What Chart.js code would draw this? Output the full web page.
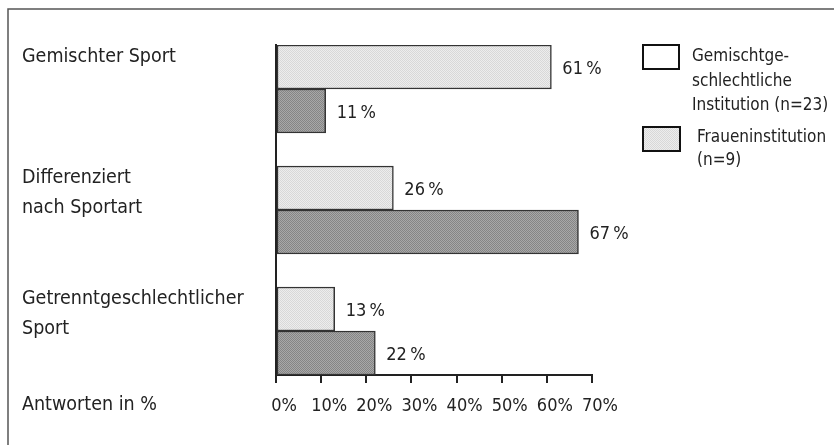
<!DOCTYPE html>
<html>
<head>
<meta charset="utf-8">
<script src="https://cdn.jsdelivr.net/npm/chart.js@4.4.1/dist/chart.umd.min.js"></script>
<style>
  html, body { margin: 0; padding: 0; background: #fff; }
  #wrap { width: 834px; height: 445px; position: relative; }
</style>
</head>
<body>
<div id="wrap"><canvas id="c" width="834" height="445"></canvas></div>
<script>
// ---- data ----
const categories = [["Gemischter Sport"], ["Differenziert", "nach Sportart"], ["Getrenntgeschlechtlicher", "Sport"]];
const gemischtValues = [61, 26, 13];   // Gemischtgeschlechtliche Institution (n=23)
const frauenValues = [11, 67, 22];     // Fraueninstitution (n=9)
const xTicks = [0, 10, 20, 30, 40, 50, 60, 70];
const seriesNames = [["Gemischtge-", "schlechtliche", "Institution (n=23)"], ["Fraueninstitution", "(n=9)"]];
const axisTitle = "Antworten in %";

const FONT = '"Liberation Sans Narrow", "Arial Narrow", "DejaVu Sans Condensed", sans-serif';
const TEXT = '#222';

function makePattern(a, b) {
  const p = document.createElement('canvas');
  p.width = 2; p.height = 2;
  const g = p.getContext('2d');
  g.fillStyle = a; g.fillRect(0, 0, 2, 2);
  g.fillStyle = b; g.fillRect(0, 0, 1, 1); g.fillRect(1, 1, 1, 1);
  return g.createPattern(p, 'repeat');
}
const lightFill = makePattern('#ededed', '#d8d8d8');
const darkFill = makePattern('#a8a8a8', '#858585');

const BAR = 44;
const half = 44 / 121;

const decor = {
  id: 'decor',
  beforeDraw(chart) {
    const c = chart.ctx;
    c.save();
    c.fillStyle = '#fff';
    c.fillRect(0, 0, chart.width, chart.height);
    c.strokeStyle = '#555';
    c.lineWidth = 1.5;
    c.beginPath();
    c.moveTo(8, 445); c.lineTo(8, 9); c.lineTo(834, 9);
    c.stroke();
    c.restore();
  },
  afterDraw(chart) {
    const c = chart.ctx;
    const y = chart.scales.y;
    c.save();
    c.fillStyle = TEXT;
    c.textAlign = 'left';
    c.textBaseline = 'middle';
    // category labels
    c.font = '19.5px ' + FONT;
    categories.forEach((lines, i) => {
      const top = y.getPixelForValue(i) - BAR;
      lines.forEach((ln, k) => c.fillText(ln, 22, top + 12 + k * 30));
    });
    // axis title
    c.fillText(axisTitle, 22, 405);
    // value labels
    c.font = '18px ' + FONT;
    chart.data.datasets.forEach((ds, di) => {
      const meta = chart.getDatasetMeta(di);
      meta.data.forEach((bar, i) => {
        c.fillText(ds.data[i].x + '\u2009%', bar.x + 11, bar.y + 2);
      });
    });
    // legend
    c.font = '17px ' + FONT;
    c.lineWidth = 2;
    c.strokeStyle = '#111';
    c.fillStyle = '#fff';
    c.fillRect(643, 45, 36, 24); c.strokeRect(643, 45, 36, 24);
    c.fillStyle = lightFill;
    c.fillRect(643, 127, 37, 24); c.strokeRect(643, 127, 37, 24);
    c.fillStyle = TEXT;
    seriesNames[0].forEach((ln, k) => c.fillText(ln, 692, 57 + k * 24.5));
    seriesNames[1].forEach((ln, k) => c.fillText(ln, 697, 138 + k * 23));
    c.restore();
  }
};

new Chart(document.getElementById('c'), {
  type: 'bar',
  data: {
    datasets: [
      {
        label: seriesNames[0].join(' '),
        data: gemischtValues.map((v, i) => ({ x: v, y: i })),
        backgroundColor: lightFill,
        borderColor: '#333',
        borderWidth: 1.5,
        borderSkipped: false,
        barThickness: BAR
      },
      {
        label: seriesNames[1].join(' '),
        data: frauenValues.map((v, i) => ({ x: v, y: i })),
        backgroundColor: darkFill,
        borderColor: '#333',
        borderWidth: 1.5,
        borderSkipped: false,
        barThickness: BAR
      }
    ]
  },
  options: {
    indexAxis: 'y',
    responsive: false,
    animation: false,
    devicePixelRatio: 1,
    layout: { padding: { left: 276, right: 242, top: 45, bottom: 30 } },
    plugins: { legend: { display: false }, tooltip: { enabled: false } },
    scales: {
      x: {
        type: 'linear',
        min: 0, max: 70,
        afterBuildTicks: s => { s.ticks = xTicks.map(v => ({ value: v })); },
        afterFit: s => { s.height = 40; },
        grid: { display: true, drawOnChartArea: false, drawTicks: true, tickLength: 8, color: '#222', lineWidth: 2 },
        border: { display: true, color: '#222', width: 2 },
        ticks: { color: TEXT, font: { family: FONT, size: 18 }, padding: 13, labelOffset: 8, maxRotation: 0, callback: v => v + '%' }
      },
      y: {
        type: 'linear',
        reverse: true,
        offset: false,
        min: -half, max: 2 + half,
        afterFit: s => { s.width = 0; },
        grid: { display: false, offset: false },
        border: { display: true, color: '#222', width: 2 },
        ticks: { display: false }
      }
    }
  },
  plugins: [decor]
});
</script>
</body>
</html>
